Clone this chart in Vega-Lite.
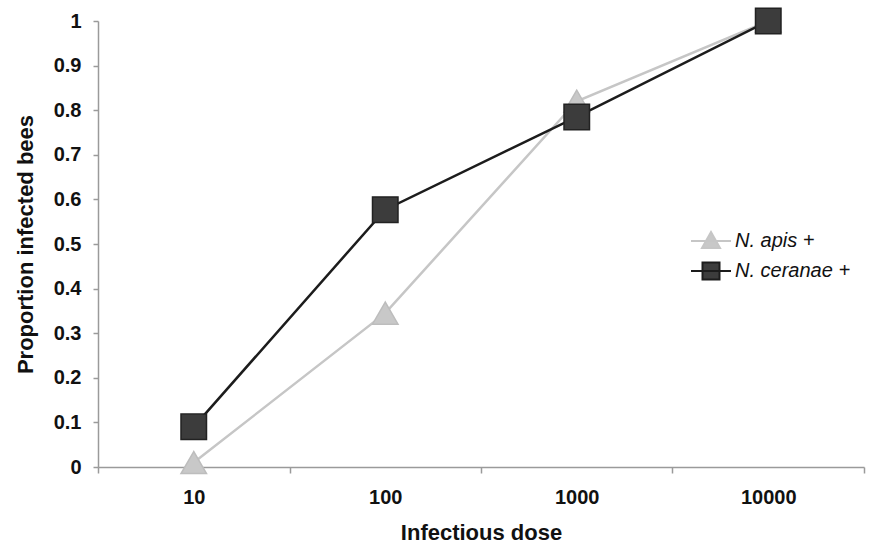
{
  "$schema": "https://vega.github.io/schema/vega-lite/v6.json",
  "width": 766,
  "height": 446,
  "autosize": {"type": "none"},
  "padding": {"left": 98, "top": 21, "right": 6, "bottom": 79},
  "background": "white",
  "config": {
    "view": {"stroke": null},
    "font": "Liberation Sans",
    "axis": {"grid": false, "domainColor": "#9a9a9a", "tickColor": "#9a9a9a", "domainWidth": 1.5, "tickWidth": 1.5, "labelColor": "#111", "titleColor": "#111", "labelFont": "Liberation Sans", "titleFont": "Liberation Sans", "labelFontWeight": "bold", "titleFontWeight": "bold"},
    "legend": {"labelFontSize": 20, "labelFontStyle": "italic", "labelColor": "#111", "labelFont": "Liberation Sans", "symbolSize": 400, "symbolStrokeWidth": 2, "labelOffset": 13, "orient": "none"}
  },
  "data": {
    "values": [
      {"series": "N. apis +", "dose": 10, "proportion": 0.01},
      {"series": "N. apis +", "dose": 100, "proportion": 0.345},
      {"series": "N. apis +", "dose": 1000, "proportion": 0.82},
      {"series": "N. apis +", "dose": 10000, "proportion": 1.0},
      {"series": "N. ceranae +", "dose": 10, "proportion": 0.09},
      {"series": "N. ceranae +", "dose": 100, "proportion": 0.577},
      {"series": "N. ceranae +", "dose": 1000, "proportion": 0.785},
      {"series": "N. ceranae +", "dose": 10000, "proportion": 1.0}
    ]
  },
  "encoding": {
    "x": {
      "field": "dose",
      "type": "quantitative",
      "scale": {"type": "log", "domain": [3.16228, 31622.8], "nice": false},
      "axis": {
        "title": "Infectious dose",
        "values": [3.16228, 31.6228, 316.228, 3162.28, 31622.8],
        "labelExpr": "datum.value < 10 ? '10' : datum.value < 100 ? '100' : datum.value < 1000 ? '1000' : datum.value < 10000 ? '10000' : ''",
        "labelOffset": 95.75,
        "labelFlush": false,
        "labelOverlap": false,
        "labelBound": false,
        "tickSize": 6,
        "labelPadding": 14,
        "labelFontSize": 20,
        "titleFontSize": 22,
        "titlePadding": 15
      }
    },
    "y": {
      "field": "proportion",
      "type": "quantitative",
      "scale": {"domain": [0, 1], "nice": false},
      "axis": {
        "title": "Proportion infected bees",
        "values": [0, 0.1, 0.2, 0.3, 0.4, 0.5, 0.6, 0.7, 0.8, 0.9, 1],
        "labelExpr": "datum.value == 0 ? '0' : datum.value == 1 ? '1' : format(datum.value, '.1f')",
        "tickSize": 5,
        "labelPadding": 12,
        "labelFontSize": 20,
        "titleFontSize": 22,
        "titlePadding": 16
      }
    }
  },
  "layer": [
    {
      "transform": [{"filter": "datum.series === 'N. apis +'"}],
      "mark": {"type": "line", "strokeWidth": 2.5, "stroke": "#c6c6c6"}
    },
    {
      "transform": [{"filter": "datum.series === 'N. ceranae +'"}],
      "mark": {"type": "line", "strokeWidth": 2.5, "stroke": "#1c1c1c"}
    },
    {
      "transform": [{"filter": "datum.series === 'N. apis +'"}],
      "mark": {"type": "point", "filled": true, "size": 650, "opacity": 1, "shape": "triangle-up", "stroke": "#bdbdbd", "strokeWidth": 1.5},
      "encoding": {
        "color": {
          "field": "series",
          "type": "nominal",
          "scale": {"domain": ["N. apis +"], "range": ["#c8c8c8"]},
          "legend": {
            "title": null,
            "legendX": 602,
            "legendY": 209,
            "symbolType": "M-2,0L2,0M-0.9,0.7L0,-0.9L0.9,0.7Z",
            "symbolStrokeColor": "#c6c6c6",
            "symbolFillColor": "#c8c8c8"
          }
        }
      }
    },
    {
      "transform": [{"filter": "datum.series === 'N. ceranae +'"}],
      "mark": {"type": "point", "filled": true, "size": 650, "opacity": 1, "shape": "square", "stroke": "#222222", "strokeWidth": 1.5},
      "encoding": {
        "fill": {
          "field": "series",
          "type": "nominal",
          "scale": {"domain": ["N. ceranae +"], "range": ["#3c3c3c"]},
          "legend": {
            "title": null,
            "legendX": 602,
            "legendY": 239,
            "symbolType": "M-2,0L2,0M-0.85,-0.85L0.85,-0.85L0.85,0.85L-0.85,0.85Z",
            "symbolStrokeColor": "#1c1c1c",
            "symbolFillColor": "#3c3c3c"
          }
        }
      }
    }
  ]
}
